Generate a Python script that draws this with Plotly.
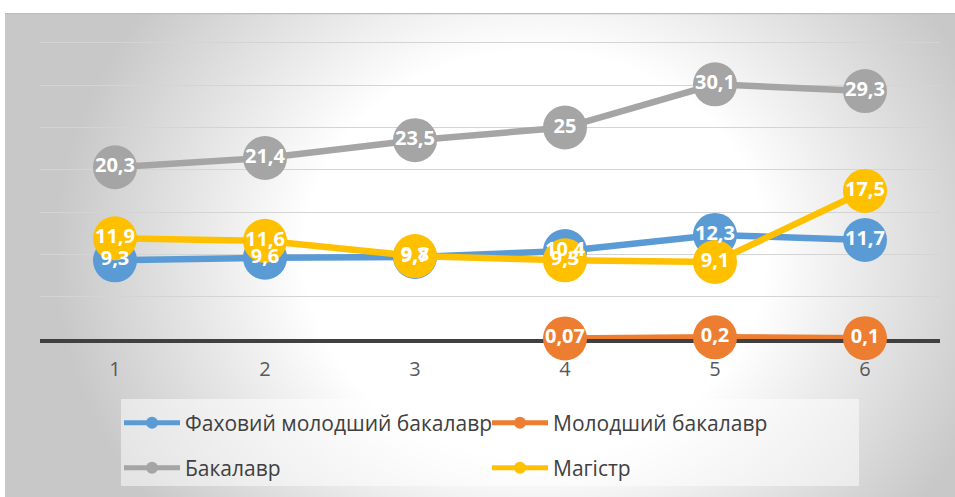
import plotly.graph_objects as go
import base64

categories = [1, 2, 3, 4, 5, 6]
tick_labels = ["1", "2", "3", "4", "5", "6"]
names = ["Фаховий молодший бакалавр", "Молодший бакалавр", "Бакалавр", "Магістр"]
fakhovyi = [9.3, 9.6, 9.7, 10.4, 12.3, 11.7]
molodshyi = [None, None, None, 0.07, 0.2, 0.1]
bakalavr = [20.3, 21.4, 23.5, 25, 30.1, 29.3]
magistr = [11.9, 11.6, 9.8, 9.3, 9.1, 17.5]

series = [fakhovyi, molodshyi, bakalavr, magistr]
colors = ["#5B9BD5", "#ED7D31", "#A5A5A5", "#FFC000"]
legends = ["legend", "legend", "legend2", "legend2"]

W, H = 955, 497
L, R, T, B = 40, 15, 13, 158
pw, ph = W - L - R, H - T - B


def px(x):
    return (x - L) / pw


def py(y):
    return (H - B - y) / ph


def fmt(v):
    return ("%g" % v).replace(".", ",")


fig = go.Figure()
for vals, c, n, lg in zip(series, colors, names, legends):
    fig.add_trace(go.Scatter(
        x=categories, y=vals, name=n, mode="lines+markers",
        line=dict(color=c, width=6.5),
        marker=dict(size=44, color=c),
        cliponaxis=False, legend=lg, hoverinfo="skip",
    ))
for vals, c in zip(series, colors):
    fig.add_trace(go.Scatter(
        x=categories, y=vals, mode="text",
        text=[fmt(v) if v is not None else "" for v in vals],
        textposition="middle center",
        textfont=dict(family="Open Sans", size=20, color="white", weight="bold"),
        showlegend=False, cliponaxis=False, hoverinfo="skip",
    ))

svg = (
    '<svg xmlns="http://www.w3.org/2000/svg" width="950" height="484" viewBox="0 0 950 484" preserveAspectRatio="none">'
    '<defs><radialGradient id="g" gradientUnits="userSpaceOnUse" cx="0" cy="0" r="1" '
    'gradientTransform="translate(530 240) scale(480 420)">'
    '<stop offset="0" stop-color="#ffffff"/><stop offset="0.48" stop-color="#ffffff"/>'
    '<stop offset="1" stop-color="#c8c8c8"/></radialGradient></defs>'
    '<rect x="0" y="0" width="950" height="484" fill="url(#g)"/>'
    '<line x1="0" y1="0.5" x2="950" y2="0.5" stroke="#bdbdbd" stroke-width="1.5"/>'
    '</svg>'
)
src = "data:image/svg+xml;base64," + base64.b64encode(svg.encode()).decode()

fig.add_layout_image(dict(
    source=src, xref="paper", yref="paper",
    x=px(5), y=py(13), sizex=950 / pw, sizey=484 / ph,
    xanchor="left", yanchor="top", sizing="stretch", layer="below",
))

fig.add_shape(type="rect", xref="paper", yref="paper",
              x0=px(121), x1=px(859), y0=py(486), y1=py(399),
              fillcolor="rgba(255,255,255,0.5)", line=dict(width=0), layer="below")

legend_common = dict(
    orientation="h", xanchor="left", yanchor="middle",
    xref="container", yref="container",
    bgcolor="rgba(0,0,0,0)", borderwidth=0,
    font=dict(family="Open Sans", size=21, color="#404040"),
    entrywidth=297, itemwidth=56, itemsizing="constant",
)

fig.update_layout(
    width=W, height=H,
    margin=dict(l=L, r=R, t=T, b=B, autoexpand=False),
    paper_bgcolor="white", plot_bgcolor="rgba(0,0,0,0)",
    showlegend=True,
    legend=dict(x=119 / W, y=1 - 423 / H, **legend_common),
    legend2=dict(x=119 / W, y=1 - 468 / H, **legend_common),
    xaxis=dict(
        range=[0.5, 6.5], tickvals=categories, ticktext=tick_labels,
        showgrid=False, zeroline=False, showline=True,
        linecolor="#404040", linewidth=3.5,
        ticks="outside", ticklen=9, tickcolor="rgba(0,0,0,0)",
        tickfont=dict(family="Open Sans", size=20, color="#595959"),
        layer="below traces", fixedrange=True,
    ),
    yaxis=dict(
        range=[0, (H - B - T) / 8.46], dtick=5, showticklabels=False,
        showgrid=True, gridcolor="#d4d4d4", gridwidth=1.3,
        zeroline=False, showline=False, layer="below traces", fixedrange=True,
    ),
)

fig.write_html("out.html")
